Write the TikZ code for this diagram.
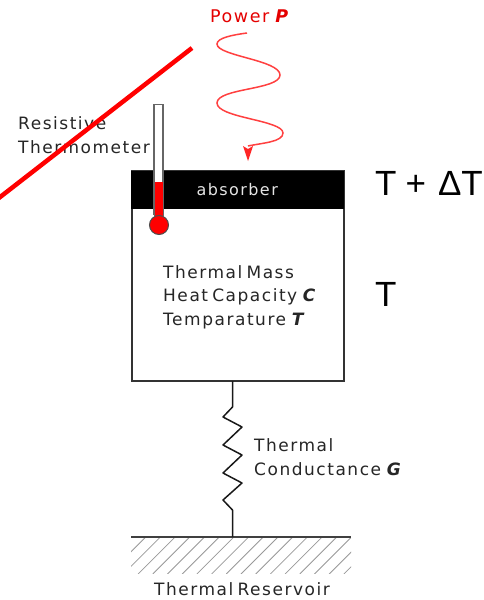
\documentclass[tikz,border=0pt]{standalone}
\usepackage{fontspec}
\setmainfont[LetterSpace=9,WordSpace=0.6]{DejaVu Sans}
\newfontfamily\arialf{Liberation Sans}
\usetikzlibrary{arrows.meta}
\begin{document}
\begin{tikzpicture}[x=1pt,y=-1pt,
 lbl/.style={inner sep=0pt,font=\fontsize{17}{23.5}\selectfont,text=black!85,align=left},
 big/.style={inner sep=0pt,font=\arialf\fontsize{35}{40}\selectfont}]
\useasboundingbox (0,0) rectangle (484,600);
\fill[white] (0,0) rectangle (484,600);
% hatch
\begin{scope}
\clip (131,538) rectangle (351,573);
\foreach \i in {0,14.7,...,270}{\draw[black!40,line width=0.8pt] (131+\i,537) -- ++(-37,37);}
\end{scope}
\coordinate (gl) at (131,537); \coordinate (gr) at (351,537);
\draw[black!75,line width=2pt] (gl) -- (gr);
% box
\node[draw=black!80,line width=1.8pt,minimum width=212pt,minimum height=210pt,inner sep=0pt,anchor=north west] (box) at (131,170) {};
\node[fill=black,draw=black,minimum width=212pt,minimum height=37pt,inner sep=0pt,anchor=north west,text=white!90!black,font=\fontsize{16}{20}\selectfont] (abs) at (131,170.5) {absorber};
% spring
\coordinate (s0) at (232.5,381); \coordinate (s1) at (232.5,537);
\draw[black!90,line width=1.5pt,line join=round] (s0) -- (232.5,407) -- (223,417) -- (242,427) -- (223,445) -- (242,455) -- (223,473) -- (242,483) -- (223,500) -- (232.5,510) -- (s1);
% thermometer
\fill[white] (154,104) rectangle (163,182);
\draw[black!60,line width=1.3pt] (154,215) -- (154,104.5) -- (163,104.5) -- (163,215);
\fill[red] (154.5,182) rectangle (162.5,216);
\draw[black!60,line width=.8pt] (154,182) -- (154,216) (163,182) -- (163,216);
\node[circle,fill=red,draw=black!70,line width=1pt,minimum size=19pt,inner sep=0pt] (bulb) at (159,225) {};
% wave
\coordinate (w0) at (247,33); \coordinate (w1) at (248,161);
\draw[red!75!white,line width=1.5pt] (w0) .. controls (232,35) and (217,38) .. (217,44) .. controls (217,56) and (280,60) .. (280,75) .. controls (280,90) and (217,88) .. (217,103) .. controls (217,118) and (283,120) .. (283,133) .. controls (283,142) and (262,143) .. (248,146);
\fill[red!85!white] (243,146) -- (248,149) -- (253,146) -- (w1) -- cycle;
\node[inner sep=0pt,text=red!90!black,font=\fontsize{17.5}{20}\selectfont,anchor=west] (pw) at (210,16) {Power \textbf{\textit{P}}};
\node[lbl,anchor=west,text=black!85] (rt) at (18,135) {Resistive\\Thermometer};
\node[lbl,anchor=west] (tm) at (163,297) {Thermal Mass\\Heat Capacity \textbf{\textit{C}}\\Temparature \textbf{\textit{T}}};
\node[lbl,anchor=west] (tc) at (254,457) {Thermal\\Conductance \textbf{\textit{G}}};
\node[lbl,anchor=center] (tr) at (242,589) {Thermal Reservoir};
\node[big,anchor=west] (t1) at (375,183) {T\hspace{9pt}+\hspace{12pt}ΔT};
\node[big,anchor=west] (t2) at (375,294) {T};
% red strike
\coordinate (ra) at (192,48); \coordinate (rb) at (-5,201);
\draw[red,line width=4.5pt] (ra) -- (rb);
\end{tikzpicture}
\end{document}
